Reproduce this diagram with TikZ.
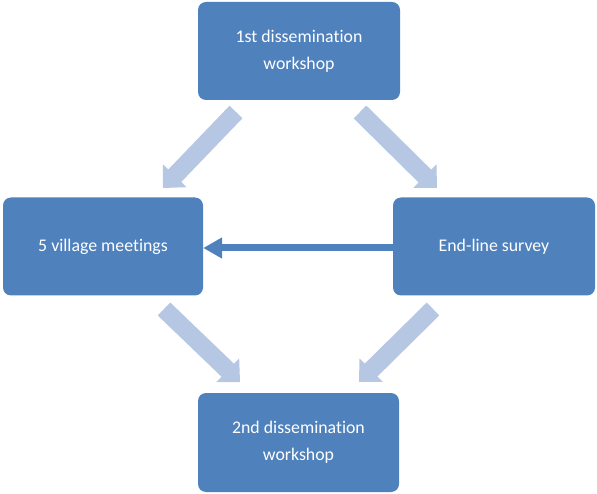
\documentclass[tikz,border=0pt]{standalone}
\usepackage{fontspec}
\setmainfont{Carlito}[RawFeature=-liga]
\usetikzlibrary{calc,arrows.meta}
\definecolor{boxblue}{HTML}{4F81BD}
\definecolor{lightarrow}{RGB}{181,199,226}
\newcommand\blockarrow[2]{%
  \coordinate (hb) at ($(#2)!17pt!(#1)$);
  \fill[lightarrow] ($(#1)!9pt!90:(#2)$) -- ($(hb)!9pt!-90:(#1)$) -- ($(hb)!16.5pt!-90:(#1)$) -- (#2)
    -- ($(hb)!16.5pt!90:(#1)$) -- ($(hb)!9pt!90:(#1)$) -- ($(#1)!9pt!-90:(#2)$) -- cycle;}
\begin{document}
\begin{tikzpicture}[x=1pt,y=-1pt,
  box/.style={fill=boxblue, rounded corners=8pt, text=white, align=center,
    inner sep=0pt, minimum height=98pt, font=\fontsize{17.8}{27}\selectfont}]
\useasboundingbox (0,0) rectangle (597,494);
\node[box, minimum width=202pt] (top) at (299,51) {1st dissemination\\workshop};
\node[box, minimum width=200pt] (left) at (103,246.5) {5 village meetings};
\node[box, minimum width=202pt] (right) at (494,246.5) {End-line survey};
\node[box, minimum width=201pt, minimum height=99pt] (bottom) at (298.5,442.5) {2nd dissemination\\workshop};
\coordinate (tls) at (236,112); \coordinate (tlt) at (163,188);
\coordinate (trs) at (360,112); \coordinate (trt) at (437,188);
\coordinate (bls) at (164,309); \coordinate (blt) at (240,382);
\coordinate (brs) at (433,309); \coordinate (brt) at (359,382);
\blockarrow{tls}{tlt}
\blockarrow{trs}{trt}
\blockarrow{bls}{blt}
\blockarrow{brs}{brt}
\draw[boxblue, line width=7pt, -{Triangle[length=19pt,width=20pt]}] ([yshift=-1.5pt]right.west) -- ([yshift=-1.5pt]left.east);
\end{tikzpicture}
\end{document}
